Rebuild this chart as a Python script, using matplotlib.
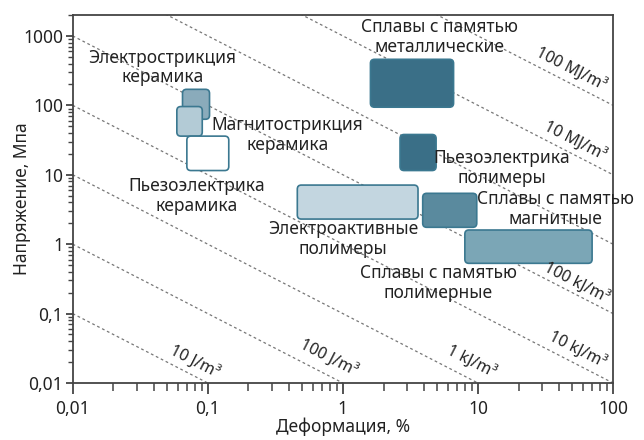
import matplotlib
matplotlib.use('Agg')
import matplotlib.pyplot as plt
import matplotlib.transforms as mtransforms
from matplotlib.patches import FancyBboxPatch
from matplotlib.ticker import FixedLocator, LogLocator, NullFormatter

plt.rcParams['font.family'] = ['Noto Sans', 'DejaVu Sans']

# actuator classes: strain range (%) and stress range (MPa)
materials = ['Электрострикция керамика', 'Магнитострикция керамика',
             'Пьезоэлектрика керамика', 'Сплавы с памятью металлические',
             'Пьезоэлектрика полимеры', 'Электроактивные полимеры',
             'Сплавы с памятью магнитные', 'Сплавы с памятью полимерные']
strainMin = [0.065, 0.059, 0.070, 1.6, 2.65, 0.46, 3.9, 8.0]
strainMax = [0.103, 0.091, 0.143, 6.6, 4.9, 3.6, 9.8, 70.0]
stressMin = [63, 36, 11.5, 94, 11.5, 2.3, 1.75, 0.53]
stressMax = [170, 96, 36, 460, 38, 7.1, 5.4, 1.6]
fillColors = ['#8aabbb', '#b3cbd6', '#ffffff', '#3a6f87',
              '#3a6f87', '#c3d6e0', '#5a8a9e', '#7ba6b6']

# label text and where it sits (strain, stress)
labelText = ['Электрострикция\nкерамика', 'Магнитострикция\nкерамика',
             'Пьезоэлектрика\nкерамика', 'Сплавы с памятью\nметаллические',
             'Пьезоэлектрика\nполимеры', 'Электроактивные\nполимеры',
             'Сплавы с памятью\nмагнитные', 'Сплавы с памятью\nполимерные']
labelX = [0.046, 0.39, 0.083, 5.2, 15.1, 1.0, 37.5, 5.1]
labelY = [350, 37.4, 4.95, 968, 12.5, 1.19, 3.21, 0.276]

# constant energy density lines: stress * strain = const (MPa * %)
energyConst = [0.001, 0.01, 0.1, 1, 10, 100, 1000, 10000]
energyText = ['10 J/m³', '100 J/m³', '1 kJ/m³', '10 kJ/m³', '100 kJ/m³',
              None, '10 MJ/m³', '100 MJ/m³']
energyX = [0.080, 0.78, 8.9, 54, 53.5, None, 52.5, 49]
energyY = [0.020, 0.0229, 0.020, 0.0299, 0.276, None, 29.7, 324]

xTicks = [0.01, 0.1, 1, 10, 100]
xTickLabels = ['0,01', '0,1', '1', '10', '100']
yTicks = [0.01, 0.1, 1, 10, 100, 1000]
yTickLabels = ['0,01', '0,1', '1', '10', '100', '1000']

fig = plt.figure(figsize=(6.44, 4.40), dpi=100, facecolor='white')
ax = fig.add_axes([0.1129, 0.1295, 0.839, 0.8364])
ax.set_xscale('log')
ax.set_yscale('log')
ax.set_xlim(0.01, 100)
ax.set_ylim(0.01, 2000)

textColor = '#222222'
spineColor = '#444444'

# energy density lines
for c in energyConst:
    ax.plot([0.01, 100], [c / 0.01, c / 100], color='#777777', lw=0.9,
            linestyle=(0, (2.2, 2.2)), zorder=1)

for t, x, y in zip(energyText, energyX, energyY):
    if t is None:
        continue
    ax.text(x, y, t, rotation=-27, ha='center', va='center',
            fontsize=11.5, color=textColor, rotation_mode='anchor', zorder=3)

# rounded boxes drawn in pixel space so corners stay round on log axes
for i in range(len(materials)):
    (x0, y0), (x1, y1) = ax.transData.transform(
        [(strainMin[i], stressMin[i]), (strainMax[i], stressMax[i])])
    box = FancyBboxPatch((x0, y0), x1 - x0, y1 - y0,
                         boxstyle='round,pad=0,rounding_size=4',
                         facecolor=fillColors[i], edgecolor='#3b7890',
                         lw=1.2, transform=mtransforms.IdentityTransform(),
                         zorder=2)
    ax.add_patch(box)

for t, x, y in zip(labelText, labelX, labelY):
    ax.text(x, y, t, ha='center', va='center', fontsize=12.5,
            color=textColor, linespacing=1.1, zorder=4)

ax.xaxis.set_major_locator(FixedLocator(xTicks))
ax.set_xticklabels(xTickLabels)
ax.yaxis.set_major_locator(FixedLocator(yTicks))
ax.set_yticklabels(yTickLabels)
ax.xaxis.set_minor_locator(LogLocator(base=10, subs=range(2, 10)))
ax.yaxis.set_minor_locator(LogLocator(base=10, subs=range(2, 10)))
ax.xaxis.set_minor_formatter(NullFormatter())
ax.yaxis.set_minor_formatter(NullFormatter())

ax.tick_params(axis='x', which='major', length=8, width=1.3, color=spineColor,
               labelsize=12.5, labelcolor=textColor, pad=4)
ax.tick_params(axis='x', which='minor', length=6, width=1.1, color=spineColor)
ax.tick_params(axis='y', which='major', length=5, width=1.3, color=spineColor,
               labelsize=12.5, labelcolor=textColor, pad=2)
ax.tick_params(axis='y', which='minor', length=3.5, width=1.0, color=spineColor)

for s in ax.spines.values():
    s.set_color(spineColor)
    s.set_linewidth(1.3)

ax.set_xlabel('Деформация, %', fontsize=12.5, color=textColor, labelpad=0)
ax.set_ylabel('Напряжение, Мпа', fontsize=12.5, color=textColor)
ax.yaxis.set_label_coords(-0.077, 0.5)

fig.savefig('out.png', dpi=100, facecolor='white')
